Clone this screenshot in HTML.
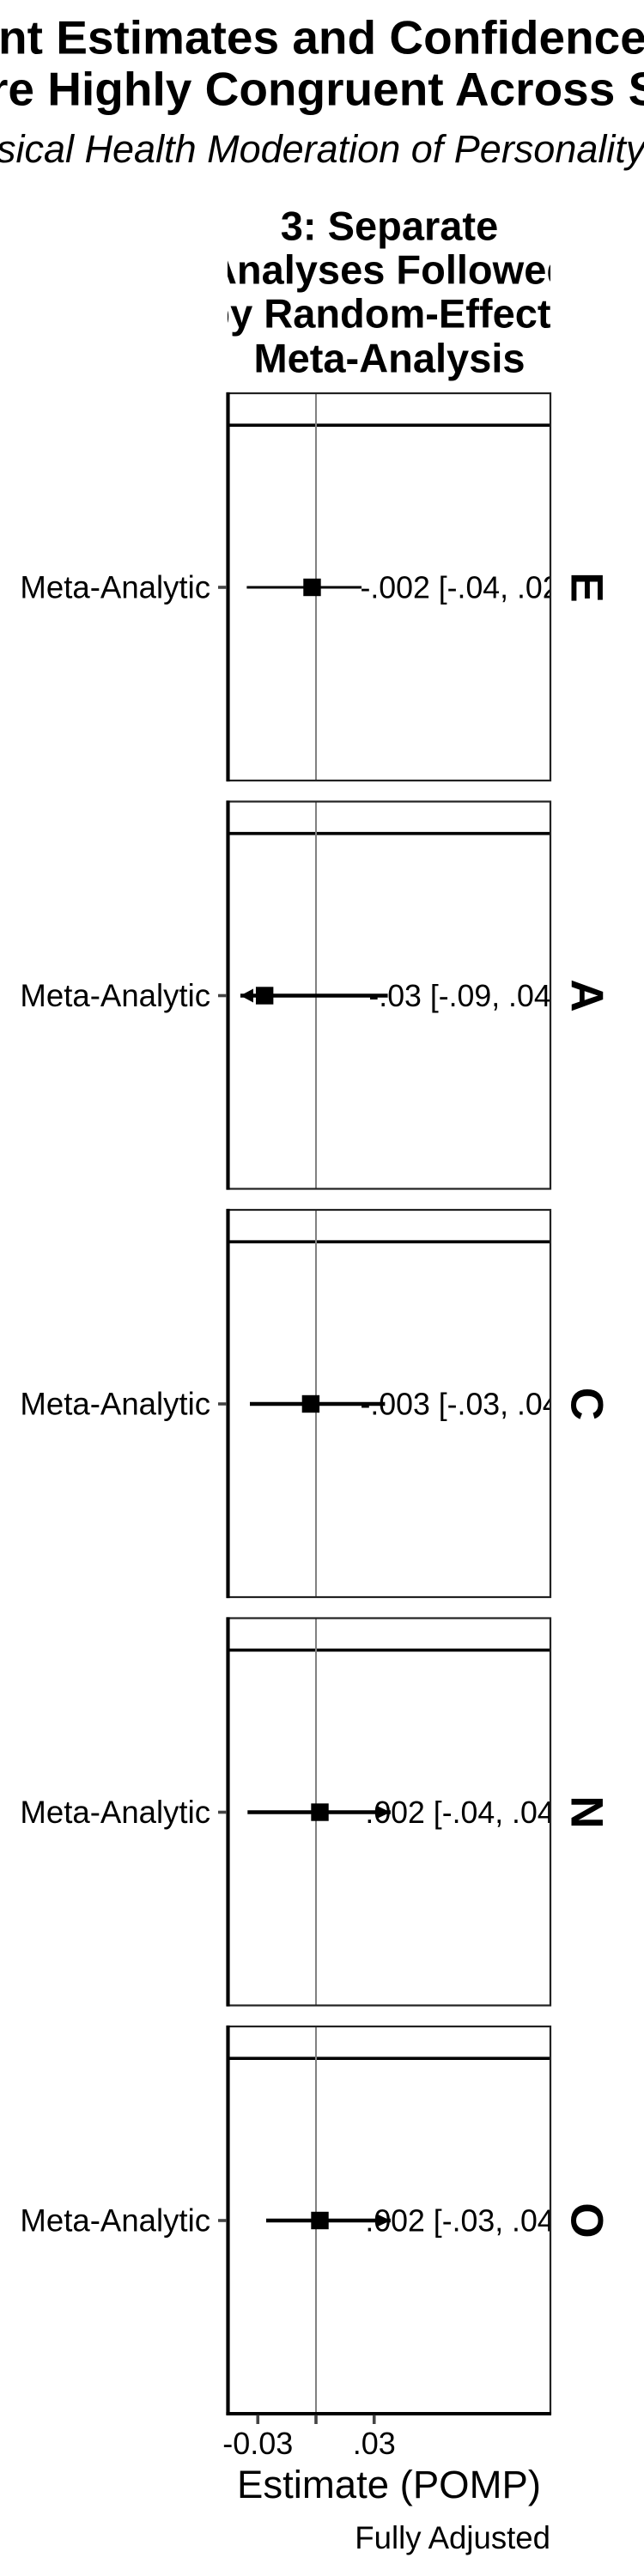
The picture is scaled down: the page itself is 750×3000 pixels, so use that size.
<!DOCTYPE html>
<html lang="en">
<head>
<meta charset="utf-8">
<title>Meta-analytic forest plot</title>
<style>
html,body{margin:0;padding:0;background:#fff;}
svg{display:block;font-family:"Liberation Sans",Arial,Helvetica,sans-serif;}
</style>
</head>
<body>
<svg id="chart" xmlns="http://www.w3.org/2000/svg" width="750" height="3000" viewBox="0 0 750 3000">
  <defs>
    <clipPath id="facet-clip"><rect x="265" y="200" width="376" height="260"/></clipPath>
  </defs>
  <rect x="0" y="0" width="750" height="3000" fill="#fff"/>
  <text x="-2" y="62.3" font-size="55" font-weight="700">nt Estimates and Confidence</text>
  <text x="-12" y="122.3" font-size="55" font-weight="700">re Highly Congruent Across S</text>
  <text x="-4" y="189" font-size="45" font-style="italic">sical Health Moderation of Personality</text>
  <g clip-path="url(#facet-clip)" font-size="47" font-weight="700" text-anchor="middle">
    <text x="453.5" y="279.3">3: Separate</text>
    <text x="453.5" y="330.5">Analyses Followed</text>
    <text x="453.5" y="381.7">by Random-Effects</text>
    <text x="453.5" y="433.3">Meta-Analysis</text>
  </g>
  <g id="panels"></g>
  <g id="x-axis"></g>
  <text x="453" y="2909" font-size="45.5" text-anchor="middle">Estimate (POMP)</text>
  <text x="641" y="2968" font-size="36.6" text-anchor="end">Fully Adjusted</text>
</svg>
<script>
var traits = ['E', 'A', 'C', 'N', 'O'];
var rowLabel = 'Meta-Analytic';
var estimates = [-0.002, -0.0265, -0.0027, 0.002, 0.002];
var ciLow = [-0.0357, -0.09, -0.0341, -0.0353, -0.0257];
var ciHigh = [0.0235, 0.037, 0.0356, 0.04, 0.04];
var printedValues = ['-.002 [-.04, .02]', '-.03 [-.09, .04]', '-.003 [-.03, .04]', '.002 [-.04, .04]', '.002 [-.03, .04]'];
var tickValues = [-0.03, 0, 0.03];
var tickLabels = ['-0.03', '', '.03'];

var NS = 'http://www.w3.org/2000/svg';
var panelLeft = 265, panelRight = 641, panelHeight = 451, panelTop0 = 458, panelPitch = 475.5;
var zeroX = 368, pxPerUnit = 2258, domainMin = -0.039, domainMax = 0.0385;
function xScale(v) { return zeroX + v * pxPerUnit; }
function clampX(v) { return Math.max(domainMin, Math.min(domainMax, v)); }
function panelTop(i) { return panelTop0 + i * panelPitch; }
function rowY(i) { return panelTop(i) + 226; }
function make(tag, attrs, parent) {
  var el = document.createElementNS(NS, tag);
  for (var k in attrs) { el.setAttribute(k, attrs[k]); }
  parent.appendChild(el);
  return el;
}
var root = document.getElementById('panels');
var defs = document.querySelector('defs');
traits.forEach(function (trait, i) {
  var top = panelTop(i), bottom = top + panelHeight, y = rowY(i);
  var clip = make('clipPath', { id: 'panel-clip-' + i }, defs);
  make('rect', { x: panelLeft, y: top, width: panelRight - panelLeft, height: panelHeight }, clip);
  var g = make('g', {}, root);
  
  

  var strip = make('line', { x1: panelLeft, x2: panelRight, y1: top + 37.2, y2: top + 37.2, stroke: '#000', 'stroke-width': 3.6 }, g);
  
  

  var zero = make('line', { x1: zeroX, x2: zeroX, y1: top, y2: bottom, stroke: '#808080', 'stroke-width': 2 }, g);
  
  

  var lo = clampX(ciLow[i]), hi = clampX(ciHigh[i]);
  var ci = make('line', { x1: xScale(lo), x2: xScale(hi), y1: y, y2: y, stroke: '#000', 'stroke-width': i === 0 ? 3 : 4.4 }, g);
  
  

  if (ciLow[i] < domainMin) {
    var tipL = xScale(domainMin);
    var arrowL = make('polygon', { points: tipL + ',' + y + ' ' + (tipL + 15) + ',' + (y - 8) + ' ' + (tipL + 15) + ',' + (y + 8), fill: '#000' }, g);
    
    
  }
  if (ciHigh[i] > domainMax) {
    var tipH = xScale(domainMax);
    var arrowH = make('polygon', { points: tipH + ',' + y + ' ' + (tipH - 15) + ',' + (y - 7) + ' ' + (tipH - 15) + ',' + (y + 7), fill: '#000' }, g);
    
    
  }

  var cx = xScale(estimates[i]);
  var pt = make('rect', { x: cx - 10.2, y: y - 10.2, width: 20.4, height: 20.4, fill: '#000' }, g);
  
  

  var val = make('text', { x: 540.5, y: y + 12.5, 'font-size': 35.7, 'text-anchor': 'middle', fill: '#000', 'clip-path': 'url(#panel-clip-' + i + ')' }, g);
  val.textContent = printedValues[i];
  
  

  var border = make('rect', { x: panelLeft, y: top, width: panelRight - panelLeft, height: panelHeight, fill: 'none', stroke: '#222', 'stroke-width': 2.2 }, g);
  
  

  var axisL = make('line', { x1: panelLeft + 0.5, x2: panelLeft + 0.5, y1: top - 1.1, y2: bottom + 1.1, stroke: '#000', 'stroke-width': 4.2 }, g);
  
  

  var tick = make('line', { x1: 254, x2: 264, y1: y, y2: y, stroke: '#444', 'stroke-width': 3.6 }, g);
  
  

  var lab = make('text', { x: 245, y: y + 12.5, 'font-size': 36.6, 'text-anchor': 'end', fill: '#000' }, g);
  lab.textContent = rowLabel;
  
  

  var stripLab = make('text', { x: 0, y: 0, 'font-size': 53, 'font-weight': 700, 'text-anchor': 'middle', fill: '#000', transform: 'translate(665.5,' + y + ') rotate(90)' }, g);
  stripLab.textContent = trait;
  
  
});

var axisG = document.getElementById('x-axis');
var lastBottom = panelTop(traits.length - 1) + panelHeight;
var baseAxis = make('line', { x1: panelLeft - 1.6, x2: panelRight + 1, y1: lastBottom, y2: lastBottom, stroke: '#000', 'stroke-width': 4 }, axisG);


tickValues.forEach(function (v, i) {
  var x = xScale(v);
  var t = make('line', { x1: x, x2: x, y1: lastBottom + 1.5, y2: lastBottom + 12, stroke: '#444', 'stroke-width': 3.6 }, axisG);
  
  
  if (tickLabels[i]) {
    var l = make('text', { x: x, y: 2858, 'font-size': 36, 'text-anchor': 'middle', fill: '#000' }, axisG);
    l.textContent = tickLabels[i];
    
    
  }
});
</script>
</body>
</html>
